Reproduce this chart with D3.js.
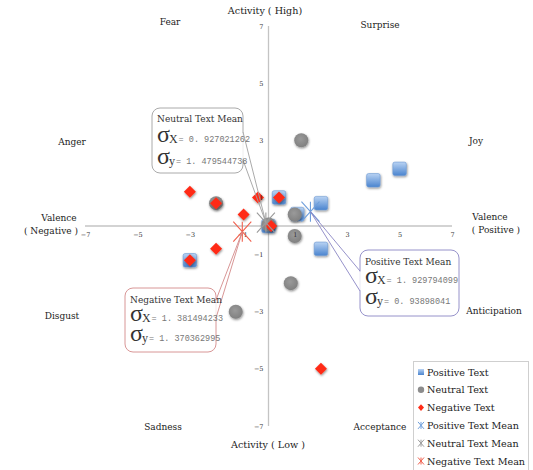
<!DOCTYPE html>
<html>
<head>
<meta charset="utf-8">
<script src="https://cdn.jsdelivr.net/npm/d3@7"></script>
<style>
  body { margin: 0; background: #fff; }
  text { font-family: "DejaVu Serif", "Liberation Serif", serif; }
</style>
</head>
<body>
<svg id="chart" width="533" height="470"></svg>
<script>
// ---- data ----------------------------------------------------------------
const positiveText = [[0, 0], [0.4, 1], [1.1, 0.42], [2, 0.8], [2, -0.8], [4, 1.6], [5, 2], [-3, -1.2]];
const neutralText  = [[0, 0.05], [1.25, 3], [-2, 0.8], [1, 0.4], [1, -0.35], [0.85, -2], [-1.25, -3]];
const negativeText = [[-3, 1.2], [-2, 0.8], [-0.4, 1], [-0.95, 0.4], [0.4, 1], [0.1, 0], [-2, -0.8], [-3, -1.2], [2, -5]];

const meanNames  = ["Positive Text Mean", "Neutral Text Mean", "Negative Text Mean"];
const meanPoints = [[1.6, 0.5], [-0.1, 0.12], [-1, -0.2]];
const sigmaX     = ["1. 929794099", "0. 927021262", "1. 381494233"];
const sigmaY     = ["0. 93898041", "1. 479544738", "1. 370362995"];

const xTicks = [-7, -5, -3, -1, 1, 3, 5, 7];
const yTicks = [7, 5, 3, 1, -1, -3, -5, -7];

const seriesNames = ["Positive Text", "Neutral Text", "Negative Text",
                     "Positive Text Mean", "Neutral Text Mean", "Negative Text Mean"];

// emotion labels around the circumplex
const emotionLabels = [
  ["Activity ( High)", 265, 14], ["Fear", 170, 25], ["Surprise", 380, 28],
  ["Anger", 72, 145], ["Joy", 476, 144],
  ["Valence", 59, 221], ["( Negative )", 51, 234],
  ["Valence", 490, 220], ["( Positive )", 496, 233],
  ["Disgust", 62, 319], ["Anticipation", 494, 314],
  ["Sadness", 163, 430], ["Acceptance", 380, 430], ["Activity ( Low )", 268, 448]
];

// ---- scales ----------------------------------------------------------------
const x = d3.scaleLinear().domain([-7, 7]).range([85, 452]);
const y = d3.scaleLinear().domain([-7, 7]).range([426, 26]);

const svg = d3.select("#chart");
const defs = svg.append("defs");

const grad = defs.append("linearGradient").attr("id", "blueGrad")
  .attr("x1", 0).attr("y1", 0).attr("x2", 0).attr("y2", 1);
grad.append("stop").attr("offset", "0%").attr("stop-color", "#b9d3f3");
grad.append("stop").attr("offset", "100%").attr("stop-color", "#4a84cf");

const greyGrad = defs.append("radialGradient").attr("id", "greyGrad")
  .attr("cx", "45%").attr("cy", "40%").attr("r", "60%");
greyGrad.append("stop").attr("offset", "0%").attr("stop-color", "#9a9a9a");
greyGrad.append("stop").attr("offset", "100%").attr("stop-color", "#808080");

const shadow = defs.append("filter").attr("id", "shadow")
  .attr("x", "-50%").attr("y", "-50%").attr("width", "200%").attr("height", "200%");
shadow.append("feDropShadow").attr("dx", 0.6).attr("dy", 1.2)
  .attr("stdDeviation", 0.8).attr("flood-color", "#000").attr("flood-opacity", 0.45);

// ---- axes ------------------------------------------------------------------
svg.append("line")
  .attr("x1", x(-7)).attr("x2", x(7)).attr("y1", y(0)).attr("y2", y(0))
  .attr("stroke", "#c4c4c4").attr("stroke-width", 1.3);
svg.append("line")
  .attr("x1", x(0)).attr("x2", x(0)).attr("y1", y(7)).attr("y2", y(-7))
  .attr("stroke", "#c4c4c4").attr("stroke-width", 1.3);

// ---- emotion labels ----------------------------------------------------------
svg.append("g").selectAll("text").data(emotionLabels).join("text")
  .attr("x", d => d[1]).attr("y", d => d[2])
  .attr("text-anchor", "middle")
  .attr("font-size", d => d[0].startsWith("Activity") ? 9.6 : 9).attr("fill", "#222")
  .text(d => d[0]);

// ---- series markers ----------------------------------------------------------
const sq = 13.5;
svg.append("g").attr("filter", "url(#shadow)")
  .selectAll("rect").data(positiveText).join("rect")
  .attr("x", d => x(d[0]) - sq / 2).attr("y", d => y(d[1]) - sq / 2)
  .attr("width", sq).attr("height", sq).attr("rx", 2)
  .attr("fill", "url(#blueGrad)").attr("stroke", "#6f9ad4").attr("stroke-width", 0.6);

svg.append("g").attr("filter", "url(#shadow)")
  .selectAll("circle").data(neutralText).join("circle")
  .attr("cx", d => x(d[0])).attr("cy", d => y(d[1])).attr("r", 7)
  .attr("fill", "url(#greyGrad)");

const dia = 6;
svg.append("g").attr("filter", "url(#shadow)")
  .selectAll("path").data(negativeText).join("path")
  .attr("d", d => {
    const cx = x(d[0]), cy = y(d[1]);
    return `M${cx},${cy - dia}L${cx + dia},${cy}L${cx},${cy + dia}L${cx - dia},${cy}Z`;
  })
  .attr("fill", "#ff2b16");

// ---- axis tick labels --------------------------------------------------------
const xAxis = svg.append("g").attr("transform", `translate(0,${y(0)})`)
  .call(d3.axisBottom(x).tickValues(xTicks).tickSize(0).tickPadding(6).tickFormat(d3.format("d")));
const yAxis = svg.append("g").attr("transform", `translate(${x(0)},0)`)
  .call(d3.axisLeft(y).tickValues(yTicks).tickSize(0).tickPadding(5).tickFormat(d3.format("d")));
[xAxis, yAxis].forEach(g => {
  g.select(".domain").remove();
  g.selectAll("text").attr("font-size", 6.5).attr("fill", "#333")
    .attr("font-family", "DejaVu Serif, serif");
});

// ---- mean markers (asterisk) -------------------------------------------------
const meanColors = ["#6f9fdc", "#9a9a9a", "#f0604e"];
function starPath(cx, cy, w, h) {
  return `M${cx - w},${cy - h}L${cx + w},${cy + h}M${cx + w},${cy - h}L${cx - w},${cy + h}` +
         `M${cx},${cy - h}L${cx},${cy + h}`;
}
svg.append("g").selectAll("path").data(meanPoints).join("path")
  .attr("d", d => starPath(x(d[0]), y(d[1]), 9, 10))
  .attr("fill", "none")
  .attr("stroke", (d, i) => meanColors[i]).attr("stroke-width", 1.1);

// ---- callouts with standard deviations ----------------------------------------
const callouts = [
  { i: 0, bx: 360, by: 250, bw: 99, bh: 66, stroke: "#8a86c4", base: [[360, 271], [360, 291]],
    rows: [265, 283, 304] },
  { i: 1, bx: 152, by: 108, bw: 91, bh: 65, stroke: "#a0a0a0", base: [[243, 132], [243, 160]],
    rows: [122, 142, 164] },
  { i: 2, bx: 125, by: 288, bw: 91, bh: 64, stroke: "#d48a8a", base: [[216, 300], [216, 318]],
    rows: [303, 321, 341] }
];

callouts.forEach(c => {
  const g = svg.append("g");
  const tip = [x(meanPoints[c.i][0]), y(meanPoints[c.i][1])];
  g.append("rect")
    .attr("x", c.bx).attr("y", c.by).attr("width", c.bw).attr("height", c.bh)
    .attr("rx", 8).attr("fill", "#fff").attr("stroke", c.stroke).attr("stroke-width", 0.9);
  // gap in the border where the pointer leaves the box
  g.append("line")
    .attr("x1", c.base[0][0]).attr("y1", c.base[0][1] + 0.6)
    .attr("x2", c.base[1][0]).attr("y2", c.base[1][1] - 0.6)
    .attr("stroke", "#fff").attr("stroke-width", 1.6);
  g.append("path")
    .attr("d", `M${c.base[0][0]},${c.base[0][1]}L${tip[0]},${tip[1]}L${c.base[1][0]},${c.base[1][1]}`)
    .attr("fill", "none").attr("stroke", c.stroke).attr("stroke-width", 0.9);

  const tx = c.bx + 5;
  g.append("text").attr("x", tx).attr("y", c.rows[0])
    .attr("font-size", 9).attr("fill", "#333").text(meanNames[c.i]);

  [[sigmaX[c.i], "X"], [sigmaY[c.i], "y"]].forEach((r, k) => {
    const t = g.append("text").attr("x", tx).attr("y", c.rows[k + 1]).attr("fill", "#333");
    t.append("tspan").attr("font-family", "Liberation Serif, serif").attr("font-size", 24).text("σ");
    t.append("tspan").attr("font-family", "Liberation Serif, serif").attr("font-size", 12)
      .attr("dx", -1).attr("dy", 1).text(r[1]);
    t.append("tspan").attr("font-family", "Liberation Mono, monospace").attr("font-size", 8.5)
      .attr("fill", "#777").attr("dx", 1).attr("dy", -1.5).text("= " + r[0]);
  });
});

// ---- legend -------------------------------------------------------------------
const lg = svg.append("g");
lg.append("rect").attr("x", 413.5).attr("y", 361.5).attr("width", 115).attr("height", 112)
  .attr("fill", "#fff").attr("stroke", "#cfcfcf");
seriesNames.forEach((name, i) => {
  const ly = 372 + i * 17.8, sx = 421;
  if (i === 0) {
    lg.append("rect").attr("x", sx - 3).attr("y", ly - 3).attr("width", 6).attr("height", 6)
      .attr("fill", "url(#blueGrad)");
  } else if (i === 1) {
    lg.append("circle").attr("cx", sx).attr("cy", ly).attr("r", 3.2).attr("fill", "#8c8c8c");
  } else if (i === 2) {
    lg.append("path").attr("d", `M${sx},${ly - 3.3}L${sx + 3},${ly}L${sx},${ly + 3.3}L${sx - 3},${ly}Z`)
      .attr("fill", "#ff2b16");
  } else {
    lg.append("path").attr("d", starPath(sx, ly, 3, 3.5)).attr("fill", "none")
      .attr("stroke", meanColors[i - 3]).attr("stroke-width", 1);
  }
  lg.append("text").attr("x", sx + 6).attr("y", ly + 3.6)
    .attr("font-size", 9.6).attr("fill", "#222").text(name);
});
</script>
</body>
</html>
